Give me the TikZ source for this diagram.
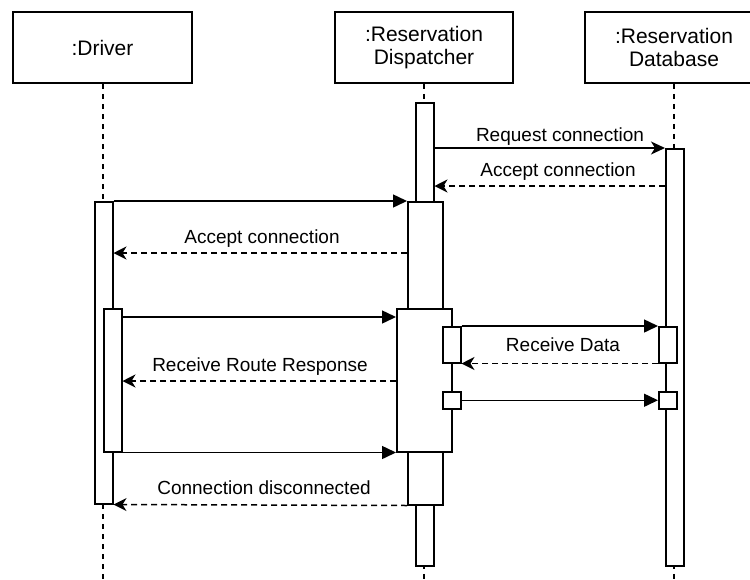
\documentclass[tikz,border=0pt]{standalone}
\usepackage{fontspec}
\setmainfont{Liberation Sans}
\usetikzlibrary{arrows.meta}
\begin{document}
\begin{tikzpicture}[x=1pt,y=-1pt,
  lw/.style={line width=1.5pt},
  head/.style={draw, lw, fill=white, minimum height=71pt, inner sep=0pt, align=center, font=\fontsize{21}{23.5}\selectfont},
  act/.style 2 args={draw, lw, fill=white, inner sep=0pt, anchor=north west, minimum width=#1, minimum height=#2},
  life/.style={lw, dash pattern=on 5pt off 5pt},
  msg/.style={lw, -{Triangle[length=14pt,width=13pt]}},
  req/.style={lw, -{Stealth[length=14pt,width=13pt,inset=4pt]}},
  reply/.style={lw, dash pattern=on 6pt off 4pt, -{Stealth[length=13pt,width=13pt,inset=4pt]}},
  lbl/.style={font=\fontsize{19}{22}\selectfont, anchor=base, inner sep=0pt}
]
\useasboundingbox (0,0) rectangle (750,579);
\fill[white] (0,0) rectangle (750,579);

% heads
\node[head, minimum width=179pt] (hD) at (102.5,47.5) {:Driver};
\node[head, minimum width=178pt] (hP) at (424,47.5) {:Reservation\\Dispatcher};
\node[head, minimum width=178pt] (hB) at (674,47.5) {:Reservation\\Database};

% lifeline ends
\coordinate (eD) at (103,580);
\coordinate (eP) at (424,580);
\coordinate (eB) at (674,580);
\draw[life] (hD.south -| eD) -- (eD);
\draw[life] (hP.south) -- (eP);
\draw[life] (hB.south) -- (eB);

% activations: driver
\node[act={18pt}{302pt}] (dA) at (94,201) {};
\node[act={18pt}{143pt}] (dB) at (103,308) {};
% dispatcher
\node[act={18pt}{99pt}] (pa) at (415,102) {};
\node[act={18pt}{61pt}] (pe) at (415,504) {};
\node[act={35pt}{107pt}] (pb) at (407,201) {};
\node[act={35pt}{53pt}] (pd) at (407,451) {};
\node[act={55pt}{143pt}] (pc) at (396,308) {};
\node[act={18pt}{36pt}] (ps1) at (442,326) {};
\node[act={18pt}{17pt}] (ps2) at (442,391) {};
% database
\node[act={18pt}{417pt}] (ba) at (665,148) {};
\node[act={18pt}{36pt}] (bs1) at (658,326) {};
\node[act={18pt}{17pt}] (bs2) at (658,391) {};

% messages
\draw[req] (pa.east |- ba.north west) -- (ba.north west);
\draw[reply] (ba.west |- 0,186) -- (pa.east |- 0,186);
\draw[msg] (dA.north east) -- (pb.north west);
\draw[reply] (pb.west |- 0,253) -- (dA.east |- 0,253);
\draw[msg] (dB.east |- 0,317) -- (pc.west |- 0,317);
\draw[msg] (ps1.north east) -- (bs1.north west);
\draw[reply] (bs1.south west) -- (ps1.south east);
\draw[reply] (pc.west |- 0,381) -- (dB.east |- 0,381);
\draw[msg] (ps2.east) -- (bs2.west);
\draw[msg] (dB.south east) -- (pc.south west);
\draw[reply] (pd.south west) -- (dA.south east);

% labels
\node[lbl] (l1) at (560,141.7) {Request connection};
\node[lbl] (l2) at (558,176) {Accept connection};
\node[lbl] (l3) at (262,243.3) {Accept connection};
\node[lbl] (l4) at (563,351.7) {Receive Data};
\node[lbl] (l5) at (260,371.7) {Receive Route Response};
\node[lbl] (l6) at (264,494) {Connection disconnected};
\end{tikzpicture}
\end{document}
